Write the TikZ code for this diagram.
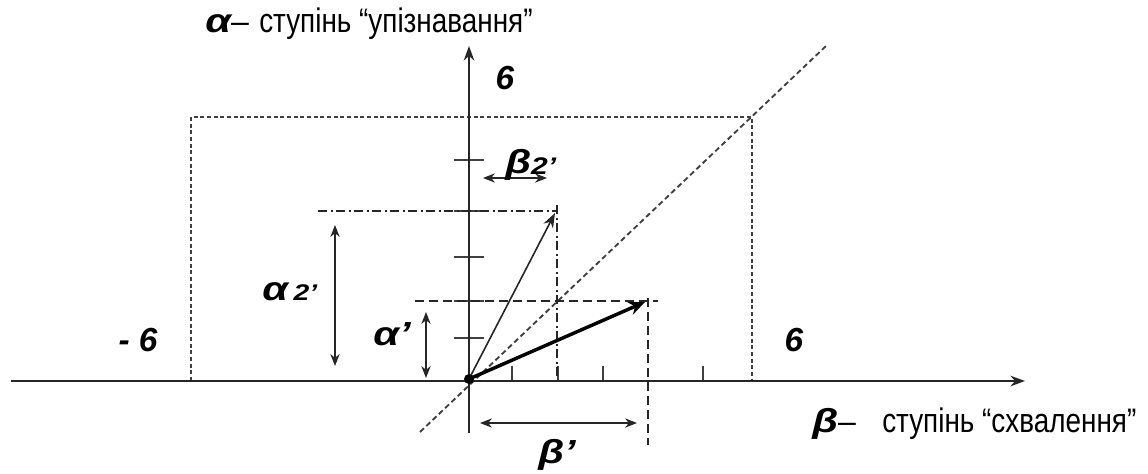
\documentclass[tikz,border=0pt]{standalone}
\usepackage{fontspec}
\setmainfont{Liberation Sans}
\newfontfamily\narrowfont[FakeStretch=0.82]{Liberation Sans}
\newfontfamily\widegreek[FakeStretch=1.25]{Liberation Sans}
\usetikzlibrary{arrows.meta}
\begin{document}
\begin{tikzpicture}[x=0.75pt,y=-0.75pt,
  axisline/.style={line width=1.1pt,draw=black!85,-{Stealth[length=11pt,width=8pt]}},
  frameline/.style={line width=0.8pt,draw=black!75,dash pattern=on 3pt off 2pt},
  diagline/.style={line width=1.4pt,draw=black!75,dash pattern=on 4pt off 2.5pt},
  tickline/.style={line width=0.8pt,draw=black!75},
  dashdotline/.style={line width=0.9pt,draw=black!85,dash pattern=on 7pt off 2.5pt on 1.5pt off 2.5pt},
  longdash/.style={line width=0.9pt,draw=black!85,dash pattern=on 7pt off 3.5pt},
  thinvec/.style={line width=1.2pt,draw=black!85,-{Stealth[length=11pt,width=8pt]}},
  thickvec/.style={line width=2.6pt,draw=black,-{Stealth[length=12pt,width=10pt]}},
  dimarrow/.style={line width=0.9pt,draw=black!85,{Stealth[length=9pt,width=7pt]}-{Stealth[length=9pt,width=7pt]}},
  numlabel/.style={font=\fontsize{25}{30}\selectfont\bfseries\itshape,inner sep=0pt},
  greeklabel/.style={font=\widegreek\fontsize{25}{30}\selectfont\bfseries\itshape,inner sep=0pt,anchor=base west},
  captext/.style={font=\narrowfont\fontsize{25.5}{30}\selectfont,inner sep=0pt,anchor=base west}]
\useasboundingbox (0,0) rectangle (1148,474);
% key points
\coordinate (O) at (469,379);
\coordinate (xs) at (11,381);
\coordinate (xe) at (1025,381);
\coordinate (ys) at (469,433);
\coordinate (ye) at (469,46);
\coordinate (fbl) at (191,381);
\coordinate (ftl) at (191,117);
\coordinate (ftr) at (752,117);
\coordinate (fbr) at (752,381);
\coordinate (ds) at (420,432);
\coordinate (de) at (826,46);
\coordinate (v1) at (555,213);
\coordinate (v2) at (645,302);
% frame and diagonal
\draw[frameline] (fbl) -- (ftl) -- (ftr) -- (fbr);
\draw[diagline] (ds) -- (de);
% ticks
\foreach \yy in {160,211,257,301,338} \draw[tickline] (454,\yy) -- (484,\yy);
\foreach \xx in {512,558,603,703} \draw[tickline] (\xx,366) -- (\xx,381);
% projection lines
\coordinate (h1s) at (318,211); \coordinate (h1e) at (557,211);
\coordinate (p1s) at (557,205); \coordinate (p1e) at (557,381);
\coordinate (h2s) at (415,301); \coordinate (h2e) at (658,301);
\coordinate (p2s) at (648,298); \coordinate (p2e) at (648,445);
\draw[dashdotline] (h1s) -- (h1e);
\draw[dashdotline] (p1s) -- (p1e);
\draw[longdash] (h2s) -- (h2e);
\draw[longdash] (p2s) -- (p2e);
% axes
\draw[axisline] (xs) -- (xe);
\draw[axisline] (ys) -- (ye);
% vectors
\draw[thinvec] (O) -- (v1);
\draw[thickvec] (O) -- (v2);
\fill[black] (O) circle (5);
% dimension arrows
\coordinate (b2a) at (483,178); \coordinate (b2b) at (547,178);
\coordinate (a2a) at (335,225); \coordinate (a2b) at (335,366);
\coordinate (a1a) at (426,312); \coordinate (a1b) at (426,378);
\coordinate (b1a) at (480,423); \coordinate (b1b) at (637,423);
\draw[dimarrow] (b2a) -- (b2b);
\draw[dimarrow] (a2a) -- (a2b);
\draw[dimarrow] (a1a) -- (a1b);
\draw[dimarrow] (b1a) -- (b1b);
% number labels
\node[numlabel] (six-top) at (505,78) {6};
\node[numlabel] (six-left) at (138,340) {- 6};
\node[numlabel] (six-right) at (794,340) {6};
% greek labels
\node[greeklabel] (lb2) at (505,173) {β\raisebox{-1pt}{\fontsize{18}{20}\selectfont 2’}};
\node[greeklabel] (la2) at (262,300) {α\,{\fontsize{17}{20}\selectfont 2’}};
\node[greeklabel] (la1) at (373,345) {α’};
\node[greeklabel] (lb1) at (538,463) {β’};
% captions
\node[greeklabel] (talpha) at (205,33) {α\normalfont\fontsize{24}{28}\selectfont–};
\node[captext] (ttext) at (259,33) {ступінь “упізнавання”};
\node[greeklabel] (bbeta) at (812,432) {β\normalfont\fontsize{24}{28}\selectfont–};
\node[captext] (btext) at (882,432) {ступінь “схвалення”};
\end{tikzpicture}
\end{document}
